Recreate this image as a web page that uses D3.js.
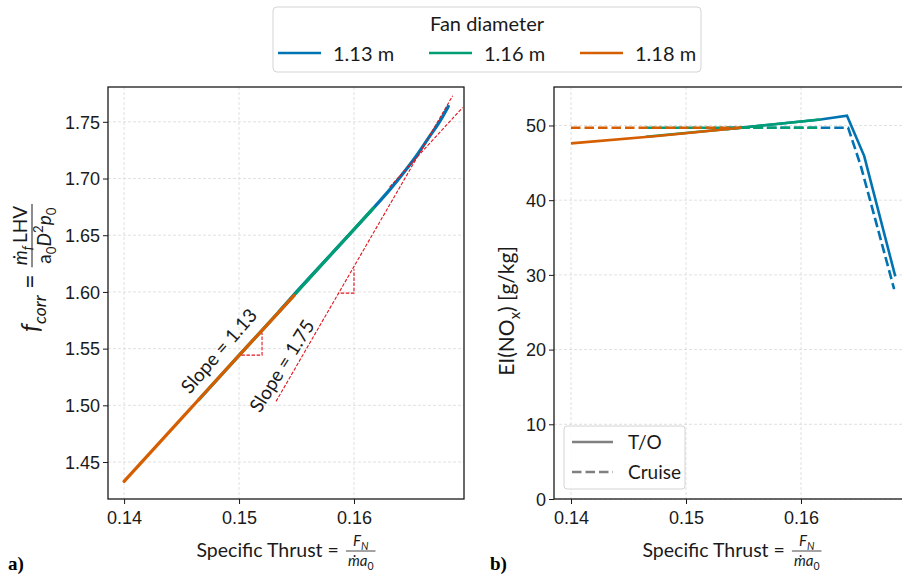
<!DOCTYPE html>
<html>
<head>
<meta charset="utf-8">
<script src="https://cdn.jsdelivr.net/npm/d3@7"></script>
<style>
  body { margin: 0; background: #fff; }
  svg { font-family: Lato, "Open Sans", sans-serif; }
</style>
</head>
<body>
<div id="chart"></div>
<script>
// legend: fan diameters and their colours
var diameters = ["1.13 m", "1.16 m", "1.18 m"]
var colors = ["#0173b2", "#029e73", "#d55e00"]

// a) f_corr vs specific thrust, one curve per fan diameter
var fcorr_113 = [[0.1535, 1.583], [0.155, 1.600], [0.158, 1.633], [0.1617, 1.674], [0.1631, 1.690],
                 [0.1645, 1.7075], [0.1655, 1.721], [0.1665, 1.736], [0.1675, 1.751], [0.1682, 1.7636]]
var fcorr_116 = [[0.1465, 1.505], [0.150, 1.544], [0.155, 1.5995], [0.158, 1.633], [0.1617, 1.674]]
var fcorr_118 = [[0.140, 1.433], [0.145, 1.4885], [0.150, 1.544], [0.1548, 1.597]]

// slope guides (red dashed)
var guide_113 = [[0.1631, 1.6925], [0.16945, 1.7626]]
var tri_113 = [[0.1502, 1.5443], [0.1520, 1.5443], [0.1520, 1.5641]]
var guide_175 = [[0.15322, 1.5035], [0.16858, 1.7729]]
var tri_175 = [[0.15884, 1.5989], [0.1600, 1.5989], [0.1600, 1.620]]

// b) EI(NOx): take-off (solid) and cruise (dashed)
var to_113 = [[0.1535, 49.5], [0.1617, 50.8], [0.1640, 51.3], [0.1655, 45.9], [0.1682, 29.8]]
var to_116 = [[0.1465, 48.5], [0.1548, 49.7], [0.1617, 50.8]]
var to_118 = [[0.140, 47.6], [0.1475, 48.6], [0.1548, 49.7]]
var cr_113 = [[0.1535, 49.7], [0.1641, 49.7], [0.1652, 44.6], [0.1681, 28.1]]
var cr_116 = [[0.1465, 49.7], [0.1617, 49.7]]
var cr_118 = [[0.140, 49.7], [0.1548, 49.7]]

// ticks
var xTicks = [0.14, 0.15, 0.16]
var fTicks = [1.45, 1.50, 1.55, 1.60, 1.65, 1.70, 1.75]
var eiTicks = [0, 10, 20, 30, 40, 50]

var W = 902, H = 576
var svg = d3.select("#chart").append("svg").attr("width", W).attr("height", H)

var panelA = { x0: 108, x1: 464, y0: 87, y1: 499 }
var panelB = { x0: 554, x1: 910, y0: 87, y1: 499 }

var xA = d3.scaleLinear().domain([0.1386, 0.16957]).range([panelA.x0, panelA.x1])
var yA = d3.scaleLinear().domain([1.4174, 1.7807]).range([panelA.y1, panelA.y0])
var xB = d3.scaleLinear().domain([0.13852, 0.16948]).range([panelB.x0, panelB.x1])
var yB = d3.scaleLinear().domain([0, 55.15]).range([panelB.y1, panelB.y0])

function drawAxes(p, x, y, yt, yfmt) {
    var g = svg.append("g")
    // grid
    g.selectAll(".gx").data(xTicks).enter().append("line")
        .attr("x1", function(d) { return x(d) }).attr("x2", function(d) { return x(d) })
        .attr("y1", p.y0).attr("y2", p.y1)
        .attr("stroke", "#d9d9d9").attr("stroke-width", 0.8).attr("stroke-dasharray", "3,2")
    g.selectAll(".gy").data(yt).enter().append("line")
        .attr("y1", function(d) { return y(d) }).attr("y2", function(d) { return y(d) })
        .attr("x1", p.x0).attr("x2", p.x1)
        .attr("stroke", "#d9d9d9").attr("stroke-width", 0.8).attr("stroke-dasharray", "3,2")

    var ax = g.append("g").attr("transform", "translate(0," + p.y1 + ")")
        .call(d3.axisBottom(x).tickValues(xTicks).tickFormat(d3.format(".2f")).tickSize(5).tickPadding(7))
    var ay = g.append("g").attr("transform", "translate(" + p.x0 + ",0)")
        .call(d3.axisLeft(y).tickValues(yt).tickFormat(yfmt).tickSize(5).tickPadding(3))
    ;[ax, ay].forEach(function(a) {
        a.select(".domain").remove()
        a.selectAll("text").style("font-size", "18px").attr("fill", "#1a1a1a")
        a.selectAll("line").attr("stroke", "#1a1a1a").attr("stroke-width", 1)
    })
    ay.selectAll("text").attr("dy", "0.35em")
    return g
}

function frame(p) {
    svg.append("rect")
        .attr("x", p.x0).attr("y", p.y0)
        .attr("width", p.x1 - p.x0).attr("height", p.y1 - p.y0)
        .attr("fill", "none").attr("stroke", "#1a1a1a").attr("stroke-width", 1.3)
}

drawAxes(panelA, xA, yA, fTicks, d3.format(".2f"))
drawAxes(panelB, xB, yB, eiTicks, d3.format("d"))

var lineA = d3.line().x(function(d) { return xA(d[0]) }).y(function(d) { return yA(d[1]) })
    .curve(d3.curveMonotoneX)
var guideLine = d3.line().x(function(d) { return xA(d[0]) }).y(function(d) { return yA(d[1]) })
var lineB = d3.line().x(function(d) { return xB(d[0]) }).y(function(d) { return yB(d[1]) })

// panel a) curves: blue first, orange on top
var fcorr = [fcorr_113, fcorr_116, fcorr_118]
svg.append("g").selectAll("path")
    .data(fcorr)
    .enter().append("path")
    .attr("d", lineA)
    .attr("fill", "none")
    .attr("stroke", function(d, i) { return colors[i] })
    .attr("stroke-width", 3.2)
    .attr("stroke-linecap", "round")
    .attr("stroke-linejoin", "round")

// slope guides
svg.append("g").selectAll("path")
    .data([guide_113, tri_113, guide_175, tri_175])
    .enter().append("path")
    .attr("d", guideLine)
    .attr("fill", "none")
    .attr("stroke", "#e0141e")
    .attr("stroke-width", 1.1)
    .attr("stroke-dasharray", "3.5,1.6")

svg.append("text")
    .attr("transform", "translate(219,351) rotate(-49)")
    .attr("text-anchor", "middle").attr("dy", "0.35em")
    .style("font-size", "19px").attr("fill", "#1a1a1a")
    .text("Slope = 1.13")
svg.append("text")
    .attr("transform", "translate(282,366) rotate(-58)")
    .attr("text-anchor", "middle").attr("dy", "0.35em")
    .style("font-size", "19px").attr("fill", "#1a1a1a")
    .text("Slope = 1.75")

frame(panelA)

// panel b) curves
var takeoff = [to_113, to_116, to_118]
var cruise = [cr_113, cr_116, cr_118]
var gB = svg.append("g")
;[0, 1, 2].forEach(function(i) {
    gB.append("path").datum(takeoff[i]).attr("d", lineB)
        .attr("fill", "none").attr("stroke", colors[i]).attr("stroke-width", 2.6)
    gB.append("path").datum(cruise[i]).attr("d", lineB)
        .attr("fill", "none").attr("stroke", colors[i]).attr("stroke-width", 2.6)
        .attr("stroke-dasharray", "9.5,4")
})

frame(panelB)

// legend in panel b)
var lg = svg.append("g")
lg.append("rect").attr("x", 564).attr("y", 426).attr("width", 121).attr("height", 63).attr("rx", 3)
    .attr("fill", "#fff").attr("fill-opacity", 0.85).attr("stroke", "#d4d4d4")
var styles = [{ name: "T/O", dash: null }, { name: "Cruise", dash: "9.5,4" }]
styles.forEach(function(s, i) {
    var yy = 442 + i * 30
    lg.append("line").attr("x1", 572).attr("x2", 613).attr("y1", yy).attr("y2", yy)
        .attr("stroke", "#808080").attr("stroke-width", 2.6).attr("stroke-dasharray", s.dash)
    lg.append("text").attr("x", 628).attr("y", yy).attr("dy", "0.35em")
        .style("font-size", "19px").attr("fill", "#1a1a1a").text(s.name)
})

// top legend: fan diameter
var tl = svg.append("g")
tl.append("rect").attr("x", 273).attr("y", 7).attr("width", 428).attr("height", 65).attr("rx", 4)
    .attr("fill", "#fff").attr("stroke", "#d4d4d4")
tl.append("text").attr("x", 487).attr("y", 31).attr("text-anchor", "middle")
    .style("font-size", "20px").attr("fill", "#1a1a1a").text("Fan diameter")
var legX = [278, 429, 580]
diameters.forEach(function(d, i) {
    tl.append("line").attr("x1", legX[i]).attr("x2", legX[i] + 43).attr("y1", 53).attr("y2", 53)
        .attr("stroke", colors[i]).attr("stroke-width", 2.6)
    tl.append("text").attr("x", legX[i] + 55).attr("y", 54).attr("dy", "0.35em")
        .style("font-size", "20px").attr("fill", "#1a1a1a").text(d)
})

// helper: text built of runs with sub/superscripts
function runs(t, parts, size) {
    var cur = 0
    parts.forEach(function(p) {
        var shift = p.sub ? size * 0.28 : p.sup ? -size * 0.4 : 0
        var sz = (p.sub || p.sup) ? size * 0.7 : size
        t.append("tspan").attr("dy", shift - cur)
            .style("font-style", p.i ? "italic" : "normal")
            .style("font-size", sz + "px")
            .text(p.t)
        cur = shift
    })
    return t
}

// x labels: Specific Thrust = F_N / (m_dot a_0)
function xLabel(cx) {
    var g = svg.append("g").attr("fill", "#1a1a1a")
    var main = g.append("text").attr("y", 557).style("font-size", "19.5px").text("Specific Thrust =")
    var num = runs(g.append("text").attr("y", 546).attr("text-anchor", "middle"),
        [{ t: "F", i: true }, { t: "N", i: true, sub: true }], 15)
    var den = runs(g.append("text").attr("y", 566).attr("text-anchor", "middle"),
        [{ t: "m\u0307a", i: true }, { t: "0", sub: true }], 15)
    var w = main.node().getComputedTextLength() + 7
    var fw = Math.max(num.node().getComputedTextLength(), den.node().getComputedTextLength()) + 4
    var x0 = cx - (w + fw) / 2
    main.attr("x", x0)
    num.attr("x", x0 + w + fw / 2)
    den.attr("x", x0 + w + fw / 2)
    g.append("line").attr("x1", x0 + w).attr("x2", x0 + w + fw).attr("y1", 551).attr("y2", 551)
        .attr("stroke", "#1a1a1a").attr("stroke-width", 0.8)
}
xLabel((panelA.x0 + panelA.x1) / 2)
xLabel((panelB.x0 + 902 + 8) / 2)

// y label a): f_corr = m_dot_f LHV / (a_0 D^2 p_0)
var yl = svg.append("g").attr("transform", "translate(39,268) rotate(-90)").attr("fill", "#1a1a1a")
var lhs = runs(yl.append("text").attr("y", 0), [{ t: "f", i: true }, { t: "corr", i: true, sub: true }, { t: " =" }], 25)
var yNum = runs(yl.append("text").attr("y", -12).attr("text-anchor", "middle"),
    [{ t: "m\u0307", i: true }, { t: "f ", i: true, sub: true }, { t: "LHV" }], 19)
var yDen = runs(yl.append("text").attr("y", 12).attr("text-anchor", "middle"),
    [{ t: "a" }, { t: "0", sub: true }, { t: "D", i: true }, { t: "2", sup: true }, { t: "p", i: true }, { t: "0", sub: true }], 19)
var lw = lhs.node().getComputedTextLength() + 7
var fw2 = Math.max(yNum.node().getComputedTextLength(), yDen.node().getComputedTextLength()) + 4
var lx0 = -(lw + fw2) / 2
lhs.attr("x", lx0)
yNum.attr("x", lx0 + lw + fw2 / 2)
yDen.attr("x", lx0 + lw + fw2 / 2)
yl.append("line").attr("x1", lx0 + lw).attr("x2", lx0 + lw + fw2).attr("y1", -7).attr("y2", -7)
    .attr("stroke", "#1a1a1a").attr("stroke-width", 1)

// y label b)
runs(svg.append("text").attr("transform", "translate(514,311) rotate(-90)").attr("text-anchor", "middle")
    .attr("fill", "#1a1a1a"),
    [{ t: "EI(NO" }, { t: "x", sub: true }, { t: ") [g/kg]" }], 21)

// panel tags
svg.append("text").attr("x", 8).attr("y", 570).style("font-family", "'Liberation Serif', serif")
    .style("font-weight", "bold").style("font-size", "19px").text("a)")
svg.append("text").attr("x", 490).attr("y", 570).style("font-family", "'Liberation Serif', serif")
    .style("font-weight", "bold").style("font-size", "19px").text("b)")
</script>
</body>
</html>
